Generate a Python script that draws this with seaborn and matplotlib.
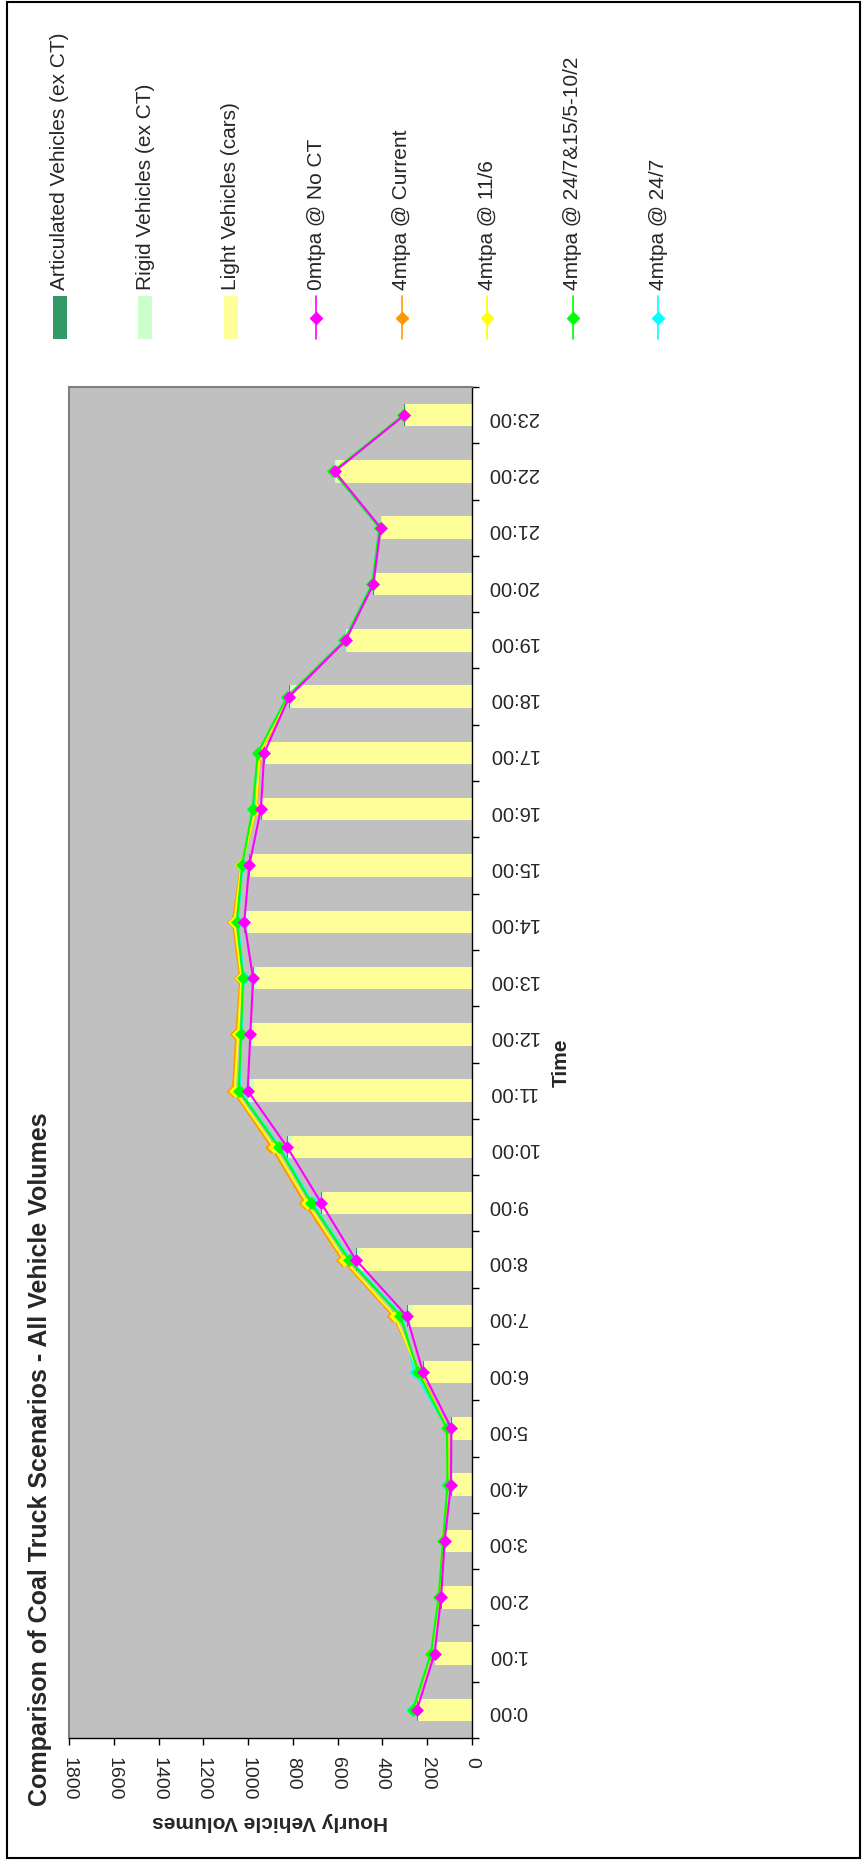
import numpy as np
import seaborn as sns
from matplotlib import pyplot as plt
from matplotlib.patches import Rectangle
from matplotlib.lines import Line2D

# hours of the day (category axis)
hours = [f"{h}:00" for h in range(24)]

# stacked bars (vehicle composition)
light_vehicles = np.array([238, 164, 134, 119, 86, 86, 208, 268, 499, 660, 804, 975,
                           972, 960, 998, 983, 931, 916, 800, 555, 432, 402, 605, 296])
rigid_vehicles = np.array([5, 2, 2, 2, 5, 3, 8, 20, 15, 9, 17, 24,
                           15, 15, 16, 9, 9, 9, 12, 6, 5, 3, 5, 3])
artic_vehicles = np.array([3, 1, 2, 1, 3, 3, 3, 4, 6, 4, 5, 3,
                           3, 3, 3, 3, 3, 3, 4, 3, 3, 3, 3, 3])

# scenario lines
no_ct = [246, 167, 138, 122, 94, 92, 219, 292, 520, 673, 826, 1002,
         990, 978, 1017, 995, 943, 928, 816, 564, 440, 408, 613, 302]
current = [262, 182, 148, 130, 108, 110, 232, 353, 581, 747, 896, 1068,
           1053, 1035, 1069, 1032, 962, 945, 822, 568, 444, 411, 618, 305]
s_11_6 = [263, 182, 148, 131, 108, 110, 238, 345, 572, 735, 885, 1060,
          1045, 1030, 1062, 1030, 965, 948, 822, 568, 444, 411, 618, 306]
s_24_7_15_5 = [264, 183, 149, 130, 109, 112, 241, 320, 551, 718, 864, 1042,
               1032, 1023, 1050, 1027, 980, 957, 825, 570, 446, 413, 620, 307]
s_24_7 = [266, 184, 149, 131, 110, 112, 256, 313, 545, 712, 858, 1038,
          1030, 1020, 1046, 1025, 978, 955, 826, 571, 447, 414, 621, 308]

value_ticks = [0, 200, 400, 600, 800, 1000, 1200, 1400, 1600, 1800]

bar_names = ["Articulated Vehicles (ex CT)", "Rigid Vehicles (ex CT)", "Light Vehicles (cars)"]
bar_colors = ["#339966", "#CCFFCC", "#FFFF99"]
line_names = ["0mtpa @ No CT", "4mtpa @ Current", "4mtpa @ 11/6",
              "4mtpa @ 24/7&15/5-10/2", "4mtpa @ 24/7"]
line_colors = ["#FF00FF", "#FF9900", "#FFFF00", "#00FF00", "#00FFFF"]

sns.set_style("white")
plt.rcParams['font.family'] = ['Liberation Sans', 'DejaVu Sans']

W, H = 863, 1861
fig = plt.figure(figsize=(W / 100, H / 100), dpi=100)
ax = fig.add_axes([69 / W, 1 - 1738 / H, (472 - 69) / W, (1738 - 387) / H])
ax.set_facecolor("#C0C0C0")

# stacked bars, drawn back to front
stack_top = light_vehicles + rigid_vehicles + artic_vehicles
stack_mid = light_vehicles + rigid_vehicles
for vals, col in [(stack_top, bar_colors[0]), (stack_mid, bar_colors[1]), (light_vehicles, bar_colors[2])]:
    sns.barplot(x=vals, y=hours, order=hours, orient="h", color=col, saturation=1,
                width=0.4, linewidth=0, errorbar=None, ax=ax)

pos = np.arange(len(hours))
series = [no_ct, current, s_11_6, s_24_7_15_5, s_24_7]
draw_order = [4, 1, 2, 3, 0]
for i in draw_order:
    sns.lineplot(x=series[i], y=pos, sort=False, estimator=None, color=line_colors[i],
                 linewidth=1.5, marker="D", markersize=6, markeredgecolor=line_colors[i],
                 markeredgewidth=0.5, legend=False, ax=ax)

ax.set_xlim(1800, 0)
ax.set_ylim(-0.5, 23.5)

# value axis (bottom)
ax.set_xticks(value_ticks)
ax.set_xticklabels([str(v) for v in value_ticks], rotation=270, fontsize=14)
ax.tick_params(axis="x", which="major", bottom=True, length=5, width=1, pad=9,
               direction="out", color="black")

# time axis (right)
ax.yaxis.tick_right()
ax.set_yticks(pos)
ax.set_yticklabels(hours, rotation=180, fontsize=14.5)
ax.set_yticks(np.arange(-0.5, 24, 1), minor=True)
ax.tick_params(axis="y", which="major", length=0, pad=11.5, left=False, right=True)
ax.tick_params(axis="y", which="minor", length=5, width=1, direction="out",
               left=False, right=True, color="black")

ax.set_xlabel("Hourly Vehicle Volumes", fontsize=15, fontweight="bold", rotation=180)
ax.xaxis.set_label_coords(0.5, -(1821.5 - 1738) / (1738 - 387))
ax.xaxis.label.set_va("center")
ax.xaxis.label.set_ha("center")
ax.set_ylabel("Time", fontsize=15, fontweight="bold", rotation=90)
ax.yaxis.set_label_position("right")
ax.yaxis.set_label_coords((561 - 69) / (472 - 69), 0.5)
ax.yaxis.label.set_va("center")
ax.yaxis.label.set_ha("center")

for side in ["top", "left"]:
    ax.spines[side].set_color("#808080")
    ax.spines[side].set_linewidth(1.5)
for side in ["bottom", "right"]:
    ax.spines[side].set_color("black")
    ax.spines[side].set_linewidth(1)
    ax.spines[side].set_visible(True)

# overlay in pixel coords for frame, title and rotated legend
ov = fig.add_axes([0, 0, 1, 1])
ov.set_xlim(0, W)
ov.set_ylim(H, 0)
ov.axis("off")
ov.add_patch(Rectangle((7, 2), 853, 1856, fill=False, lw=1.5, ec="black"))

ov.text(40, 1459, "Comparison of Coal Truck Scenarios - All Vehicle Volumes",
        rotation=90, ha="center", va="center", fontsize=18, fontweight="bold")

leg_x = [59.5, 145, 230.5, 316, 401.5, 487, 572.5, 658]
for k, (name, col) in enumerate(zip(bar_names, bar_colors)):
    ov.add_patch(Rectangle((leg_x[k] - 7, 296), 14, 43, fc=col, ec="none"))
    ov.text(leg_x[k], 290, name, rotation=90, ha="center", va="bottom", fontsize=15)
for k, (name, col) in enumerate(zip(line_names, line_colors)):
    x = leg_x[k + 3]
    ov.add_line(Line2D([x, x], [296, 339], color=col, lw=1.2))
    ov.add_line(Line2D([x], [318], color=col, marker="D", markersize=6,
                       markeredgecolor=col, linestyle="none"))
    ov.text(x, 290, name, rotation=90, ha="center", va="bottom", fontsize=15)

fig.savefig("out.png", dpi=100, facecolor="white")
